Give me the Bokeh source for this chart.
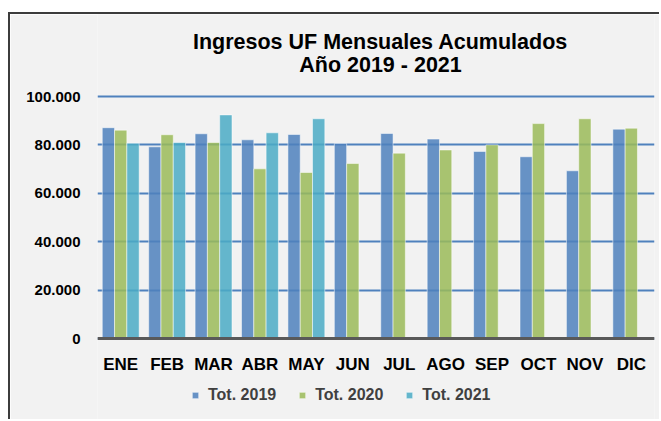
from bokeh.plotting import figure
from bokeh.models import (ColumnDataSource, FactorRange, Range1d, FixedTicker,
                          Span, Legend, LegendItem)
from bokeh.transform import dodge
from bokeh.embed import file_html
from bokeh.resources import INLINE

# ---- data ----
months = ["ENE", "FEB", "MAR", "ABR", "MAY", "JUN", "JUL", "AGO", "SEP", "OCT", "NOV", "DIC"]
tot_2019 = [87100, 79200, 84600, 82100, 84300, 80600, 84700, 82400, 77300, 75100, 69300, 86500]
tot_2020 = [86100, 84200, 81000, 70100, 68600, 72300, 76600, 77900, 80000, 88800, 90800, 86900]
months_2021 = ["ENE", "FEB", "MAR", "ABR", "MAY"]
tot_2021 = [80700, 81000, 92400, 85000, 90800]
series_names = ["Tot. 2019", "Tot. 2020", "Tot. 2021"]
y_ticks = [0, 20000, 40000, 60000, 80000, 100000]
y_tick_labels = ["0", "20.000", "40.000", "60.000", "80.000", "100.000"]
title_lines = ["Ingresos UF Mensuales Acumulados", "Año 2019 - 2021"]

colors = ["#4F81BD", "#9BBB59", "#4BACC6"]
BG = "#f2f2f2"
FONT = "Liberation Sans"

src_a = ColumnDataSource(dict(m=months, v19=tot_2019, v20=tot_2020))
src_b = ColumnDataSource(dict(m=months_2021, v21=tot_2021))

# pixel layout of the canvas (407 px tall): value 0 at 324 px, 100000 at 82 px from top
H = 407
px_per_unit = 242 / y_ticks[-1]
y_top = y_ticks[-1] + 82 / px_per_unit
y_bottom = -(H - 324) / px_per_unit

p = figure(x_range=FactorRange(*months), y_range=Range1d(y_bottom, y_top),
           width=651, height=H, output_backend="svg", toolbar_location=None,
           title=None, x_axis_location=None,
           min_border_left=87, min_border_right=7, min_border_top=0, min_border_bottom=0)
p.styles = {"border-left": "2px solid #3c3c3c", "border-top": "2px solid #3c3c3c",
            "margin-top": "12px", "margin-left": "8px"}
p.background_fill_color = BG
p.border_fill_color = BG
p.outline_line_color = None

# grid
p.xgrid.grid_line_color = None
p.ygrid.grid_line_color = "#4F81BD"
p.ygrid.grid_line_width = 2
p.ygrid.ticker = FixedTicker(ticks=y_ticks)

bw = 0.265
r1 = p.vbar(x=dodge("m", -bw, range=p.x_range), top="v19", width=bw, source=src_a,
            fill_color=colors[0], fill_alpha=0.85, line_color="white", line_alpha=0.5)
r2 = p.vbar(x=dodge("m", 0, range=p.x_range), top="v20", width=bw, source=src_a,
            fill_color=colors[1], fill_alpha=0.85, line_color="white", line_alpha=0.5)
r3 = p.vbar(x=dodge("m", bw, range=p.x_range), top="v21", width=bw, source=src_b,
            fill_color=colors[2], fill_alpha=0.85, line_color="white", line_alpha=0.5)

# baseline (category axis line)
p.add_layout(Span(location=0, dimension="width", line_color="#595959", line_width=3))

# y axis
p.yaxis.ticker = FixedTicker(ticks=y_ticks)
p.yaxis.major_label_overrides = {t: l for t, l in zip(y_ticks, y_tick_labels)}
p.yaxis.axis_line_color = None
p.yaxis.major_tick_line_color = None
p.yaxis.minor_tick_line_color = None
p.yaxis.major_tick_out = 0
p.yaxis.major_tick_in = 0
p.yaxis.major_label_standoff = 17
p.yaxis.major_label_text_font = FONT
p.yaxis.major_label_text_font_style = "bold"
p.yaxis.major_label_text_font_size = "15px"
p.yaxis.major_label_text_color = "black"

# category labels under the baseline
p.text(x="m", y=0, text="m", source=src_a, y_offset=26,
       text_align="center", text_baseline="alphabetic",
       text_font={"value": FONT}, text_font_style="bold", text_font_size="17px",
       text_color="black")

# title (two lines) centred above the plot
tsrc = ColumnDataSource(dict(x=[len(months) / 2] * 2, y=[y_ticks[-1]] * 2,
                             t=title_lines, dy=[-55, -32]))
p.text(x="x", y="y", text="t", source=tsrc, x_offset=4.5, y_offset="dy",
       text_align="center", text_baseline="alphabetic",
       text_font={"value": FONT}, text_font_style="bold", text_font_size="21.5px",
       text_color="black")

# legend
legend = Legend(items=[LegendItem(label=series_names[0], renderers=[r1]),
                       LegendItem(label=series_names[1], renderers=[r2]),
                       LegendItem(label=series_names[2], renderers=[r3])],
                orientation="horizontal", location=(94, 16),
                glyph_width=8, glyph_height=8, label_standoff=9, spacing=22,
                padding=0, margin=0, border_line_color=None, background_fill_alpha=0,
                label_height=20,
                label_text_font=FONT, label_text_font_style="bold",
                label_text_font_size="16px", label_text_color="#404040")
p.add_layout(legend, "center")

open("out.html", "w").write(file_html(p, INLINE))
